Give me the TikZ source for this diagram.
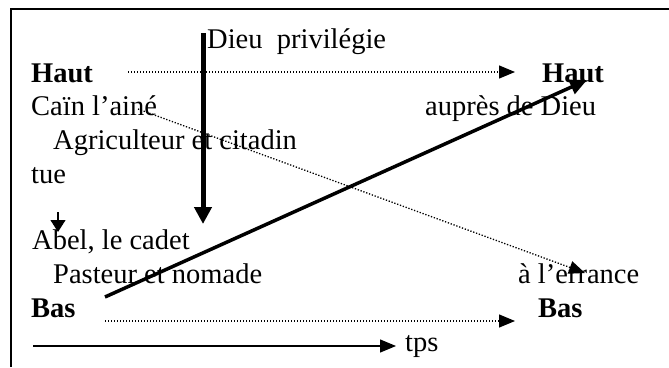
\documentclass[tikz,border=0pt]{standalone}
\usepackage{fontspec}
\setmainfont{Liberation Serif}
\usetikzlibrary{arrows.meta}
\begin{document}
\begin{tikzpicture}[x=1pt,y=-1pt,
  txt/.style={anchor=base west,inner sep=0pt,font=\fontsize{28.5}{34}\selectfont},
  btxt/.style={anchor=base west,inner sep=0pt,font=\fontsize{28.5}{34}\selectfont\bfseries},
  frameline/.style={line width=1.6pt},
  dotarrow/.style={line width=1.3pt,dash pattern=on 1.3pt off 1.7pt,-{Triangle[length=16pt,width=13pt]}},
  thinarrow/.style={line width=1.3pt,-{Triangle[length=16pt,width=13pt]}},
  bigarrow/.style={line width=3.5pt,-{Triangle[length=17pt,width=15pt]}},
  bararrow/.style={line width=5pt,-{Triangle[length=17pt,width=17pt]}},
  smallarrow/.style={line width=1.1pt,-{Triangle[length=12pt,width=15pt]}}]
\useasboundingbox (0,0) rectangle (669,367);
% frame
\coordinate (fl) at (11,367);
\coordinate (ftl) at (11,9);
\coordinate (ftr) at (669,9);
\draw[frameline] (fl) -- (ftl) -- (ftr);
% texts
\node[txt] (dieu) at (207,48) {Dieu\ \ privilégie};
\node[btxt] (hautL) at (31,82) {Haut};
\node[btxt] (hautR) at (542,82) {Haut};
\node[txt] (cain) at (31,115) {Caïn l’ainé};
\node[txt] (aupres) at (425,115) {auprès de Dieu};
\node[txt] (agri) at (53,149) {Agriculteur et citadin};
\node[txt] (tue) at (31,183) {tue};
\node[txt] (abel) at (32,249) {Abel, le cadet};
\node[txt] (past) at (53,283) {Pasteur et nomade};
\node[txt] (erra) at (518,283) {à l’errance};
\node[btxt] (basL) at (31,317) {Bas};
\node[btxt] (basR) at (538,317) {Bas};
\node[txt] (tps) at (405,351) {tps};
% connector end points
\coordinate (ht1) at (128,72);
\coordinate (ht2) at (515,72);
\coordinate (bs1) at (105,321);
\coordinate (bs2) at (515,321);
\coordinate (tp1) at (33,346);
\coordinate (tp2) at (396,346);
\coordinate (dg1) at (138,109);
\coordinate (dg2) at (585,273);
\coordinate (up1) at (105,297);
\coordinate (up2) at (587,80);
\coordinate (vb1) at (203,33);
\coordinate (vb2) at (203,224);
\coordinate (sa1) at (58,212);
\coordinate (sa2) at (58,232);
% connectors
\draw[dotarrow] (ht1) -- (ht2);
\draw[dotarrow] (bs1) -- (bs2);
\draw[thinarrow] (tp1) -- (tp2);
\draw[dotarrow] (dg1) -- (dg2);
\draw[bigarrow] (up1) -- (up2);
\draw[bararrow] (vb1) -- (vb2);
\draw[smallarrow] (sa1) -- (sa2);
\end{tikzpicture}
\end{document}
